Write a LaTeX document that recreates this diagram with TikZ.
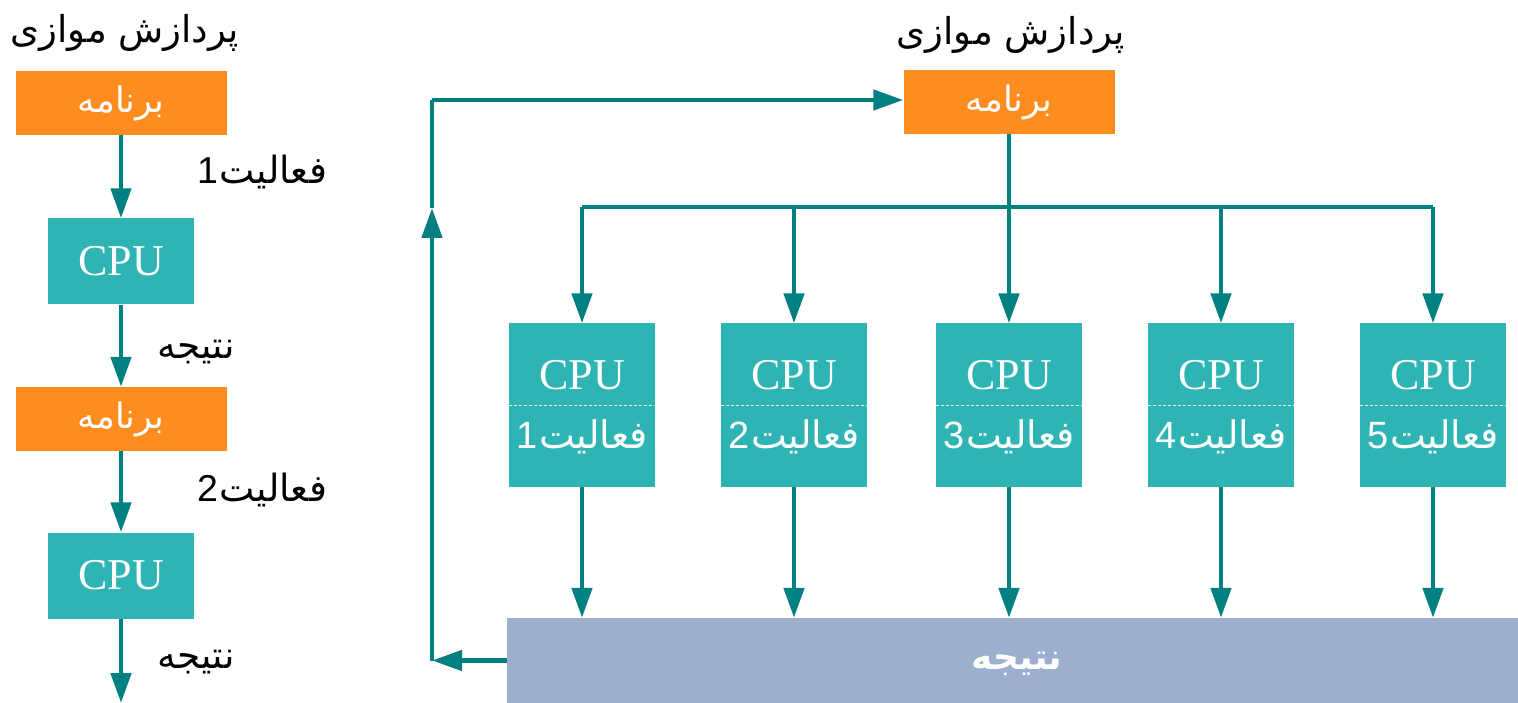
\documentclass[tikz,border=0pt]{standalone}
\usepackage{fontspec}
\setmainfont{Liberation Serif}
\newfontfamily\arabicfont[Script=Arabic]{DejaVu Sans}
\newfontfamily\digitfont{Liberation Sans}
\TeXXeTstate=1
\usetikzlibrary{arrows.meta}
\definecolor{orangeb}{RGB}{254,140,30}
\definecolor{tealb}{RGB}{47,180,180}
\definecolor{arrowc}{RGB}{0,128,128}
\definecolor{resb}{RGB}{157,175,206}
\newcommand{\artext}[1]{{\arabicfont\beginR #1\endR}}
\newcommand{\actlabel}[1]{{\digitfont #1}\hspace{2pt}\artext{فعالیت}}
\begin{document}
\begin{tikzpicture}[x=1pt,y=-1pt,
  progbox/.style={fill=orangeb,minimum width=211pt,minimum height=64pt,inner sep=0pt,text=white,font=\fontsize{35}{40}\selectfont},
  cpubox/.style={fill=tealb,minimum width=146pt,minimum height=86pt,inner sep=0pt,text=white,font=\fontsize{44}{50}\selectfont},
  cpubig/.style={fill=tealb,minimum width=146pt,minimum height=163pt,inner sep=0pt},
  resbox/.style={fill=resb,minimum width=1011pt,minimum height=85pt,inner sep=0pt},
  restxt/.style={inner sep=0pt,text=white,font=\bfseries\fontsize{36}{40}\selectfont},
  lbl/.style={inner sep=0pt,text=black,font=\fontsize{37.5}{42}\selectfont},
  ttl/.style={inner sep=0pt,text=black,font=\fontsize{37}{42}\selectfont},
  inlbl/.style={inner sep=0pt,text=white,font=\fontsize{38}{44}\selectfont},
  cputxt/.style={inner sep=0pt,text=white,font=\fontsize{44}{50}\selectfont},
  conn/.style={draw=arrowc,line width=4.8pt},
  arr/.style={conn,-{Triangle[length=30pt,width=20pt]}},
  sep/.style={draw=white!85!tealb,line width=0.8pt,dash pattern=on 3pt off 2pt}
]
\useasboundingbox (0,0) rectangle (1518,703);

% ---------- left column ----------
\node[ttl] (t1) at (125,33) {\artext{پردازش موازی}};
\node[progbox] (p1) at (121,103) {\artext{برنامه}};
\node[cpubox] (c1) at (121,261.5) {CPU};
\node[progbox] (p2) at (121,419) {\artext{برنامه}};
\node[cpubox] (c2) at (121,575.5) {CPU};
\coordinate (lend) at (121,703);
\node[lbl] (l1) at (262,172) {\actlabel{1}};
\node[lbl] (l2) at (196,352) {\artext{نتیجه}};
\node[lbl] (l3) at (262,490) {\actlabel{2}};
\node[lbl] (l4) at (196,662) {\artext{نتیجه}};
\draw[arr] (p1.south) -- (c1.north);
\draw[arr] (c1.south) -- (p2.north);
\draw[arr] (p2.south) -- (c2.north);
\draw[arr] (c2.south) -- (lend);

% ---------- right part ----------
\node[ttl] (t2) at (1011,35) {\artext{پردازش موازی}};
\node[progbox] (pr) at (1009,102) {\artext{برنامه}};
\node[resbox] (res) at (1012.5,660.5) {};
\node[restxt] (rt) at (1017,664) {\artext{نتیجه}};

\foreach \i/\x in {1/582,2/794,3/1009,4/1221,5/1433}{
  \node[cpubig] (k\i) at (\x,405) {};
  \node[cputxt] (kc\i) at (\x,375) {CPU};
  \node[inlbl] (kl\i) at (\x,437) {\actlabel{\i}};
  \draw[sep] (k\i.west |- 0,405) -- (k\i.east |- 0,405);
  \coordinate (b\i) at (\x,207);
  \draw[arr] (b\i) -- (k\i.north);
  \draw[arr] (k\i.south) -- (k\i.south |- res.north);
}
\draw[conn] (b1) -- (b5);
\draw[conn] (pr.south) -- (b3);

\coordinate (cl) at (432,660.5);
\coordinate (cm) at (432,208);
\coordinate (ct) at (432,100);
\draw[arr] (res.west |- cl) -- (cl);
\draw[arr] (cl) -- (cm);
\draw[conn] (cm) -- (ct);
\draw[arr] (ct) -- (pr.west |- ct);
\end{tikzpicture}
\end{document}
